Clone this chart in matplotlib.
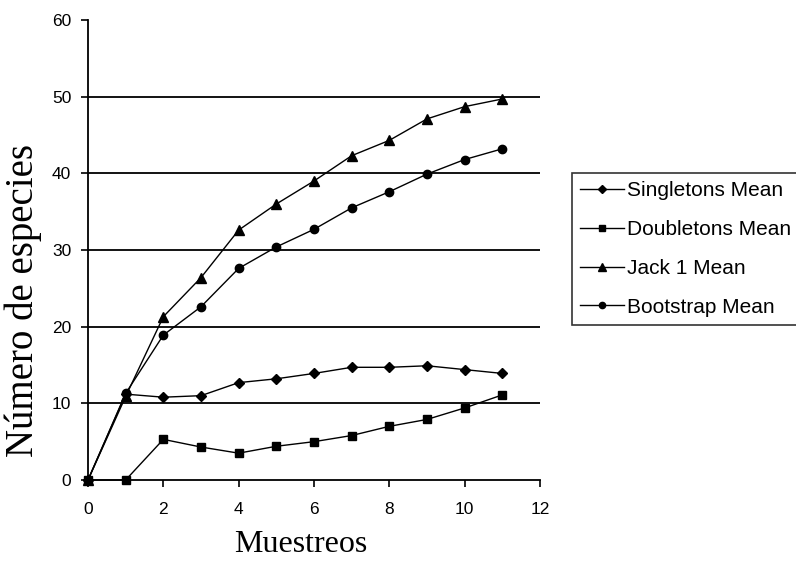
import matplotlib
matplotlib.use('Agg')
import matplotlib.pyplot as plt

# Curvas de acumulacion de especies
muestreos = list(range(0, 12))
singletons = [0, 11.2, 10.8, 11.0, 12.7, 13.2, 13.9, 14.7, 14.7, 14.9, 14.4, 13.9]
doubletons = [0, 0.0, 5.3, 4.3, 3.5, 4.4, 5.0, 5.8, 7.0, 7.9, 9.4, 11.1]
jack1 = [0, 10.9, 21.3, 26.4, 32.6, 36.0, 39.0, 42.3, 44.3, 47.1, 48.7, 49.7]
bootstrap = [0, 11.3, 18.9, 22.6, 27.6, 30.4, 32.7, 35.5, 37.6, 39.9, 41.8, 43.2]

y_ticks = [0, 10, 20, 30, 40, 50, 60]
x_ticks = [0, 2, 4, 6, 8, 10, 12]
grid_levels = [10, 20, 30, 40, 50]

fig = plt.figure(figsize=(7.96, 5.65), dpi=100, facecolor='white')
ax = fig.add_axes([88/796, 1 - 480/565, (540 - 88)/796, (480 - 20)/565])

ax.hlines(grid_levels, 0, 12, color='black', lw=1.3, zorder=1)

kw = dict(color='black', lw=1.0, zorder=3, clip_on=False)
ax.plot(muestreos, singletons, marker='D', markersize=5.5, label='Singletons Mean', **kw)
ax.plot(muestreos, jack1, marker='^', markersize=7, label='Jack 1 Mean', **kw)
ax.plot(muestreos, bootstrap, marker='o', markersize=6, label='Bootstrap Mean', **kw)
ax.plot(muestreos, doubletons, marker='s', markersize=6, label='Doubletons Mean', **kw)

ax.set_xlim(0, 12)
ax.set_ylim(0, 60)
ax.set_xticks(x_ticks)
ax.set_yticks(y_ticks)
ax.spines['top'].set_visible(False)
ax.spines['right'].set_visible(False)
ax.spines['left'].set_linewidth(1.3)
ax.spines['bottom'].set_linewidth(1.3)
ax.tick_params(direction='out', length=5, width=1.2, labelsize=12.5, colors='black')
ax.tick_params(axis='x', pad=11)
ax.tick_params(axis='y', pad=7)
for t in ax.get_xticklabels() + ax.get_yticklabels():
    t.set_fontfamily('Liberation Sans')

ax.set_xlabel('Muestreos', fontsize=23, family='Liberation Serif')
ax.xaxis.set_label_coords(0.471, -0.108)
ax.set_ylabel('Número de especies', fontsize=28, family='Liberation Serif')
ax.yaxis.set_label_coords(-0.102, 0.39)

handles, labels = ax.get_legend_handles_labels()
order = ['Singletons Mean', 'Doubletons Mean', 'Jack 1 Mean', 'Bootstrap Mean']
h = [handles[labels.index(o)] for o in order]
leg = fig.legend(h, order, loc='upper left', bbox_to_anchor=(572/796, 1 - 173/565),
                 frameon=True, fancybox=False, edgecolor='black', markerscale=0.75,
                 prop={'family': 'Liberation Sans', 'size': 15},
                 labelspacing=0.95, handlelength=2.1, handletextpad=0.15,
                 borderpad=0.4, borderaxespad=0)
leg.get_frame().set_linewidth(1.2)

fig.savefig('out.png', dpi=100, facecolor='white')
